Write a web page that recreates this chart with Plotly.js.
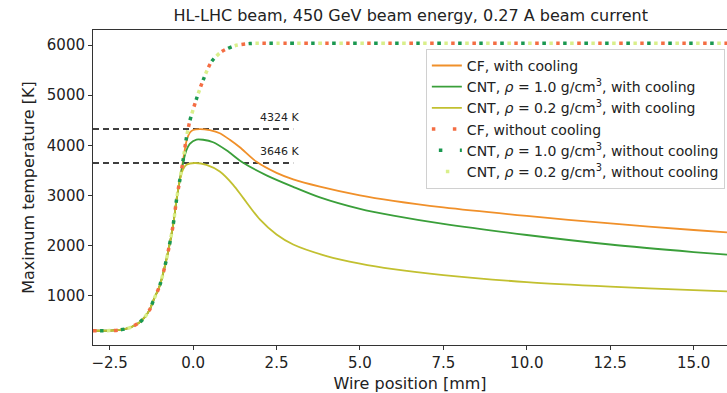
<!DOCTYPE html>
<html>
<head>
<meta charset="utf-8">
<script src="https://cdn.plot.ly/plotly-3.0.1.min.js"></script>
<style>html,body{margin:0;padding:0;background:#fff;}#chart{width:727px;height:393px;}</style>
</head>
<body>
<div id="chart"></div>
<script>
// ---- data ----
const xNoCooling = [-3, -2.5, -2.2, -2.0, -1.8, -1.6, -1.45, -1.3, -1.18, -1.0, -0.8, -0.6, -0.5, -0.4, -0.3, -0.2, -0.1, 0.1, 0.3, 0.55, 0.85, 1.25, 1.7, 2.5, 16];
const tNoCooling = [300, 302, 315, 340, 390, 470, 570, 720, 920, 1200, 1720, 2400, 2900, 3300, 3700, 4150, 4480, 4924, 5300, 5667, 5866, 5986, 6030, 6035, 6035];

const xCfCool = [-3, -2.5, -2.2, -2.0, -1.8, -1.6, -1.45, -1.3, -1.18, -1.0, -0.8, -0.6, -0.5, -0.4, -0.3, -0.2, -0.1, 0.0, 0.2, 0.5, 0.8, 1.1, 1.4, 1.9, 2.5, 3.0, 3.8, 5, 6, 7.5, 10, 12.5, 15, 16];
const tCfCool = [300, 302, 315, 340, 390, 470, 570, 720, 920, 1200, 1720, 2400, 2900, 3300, 3700, 4080, 4250, 4305, 4324, 4300, 4240, 4110, 3960, 3670, 3450, 3320, 3175, 3000, 2890, 2760, 2590, 2440, 2310, 2261];

const xCnt10Cool = [-3, -2.5, -2.2, -2.0, -1.8, -1.6, -1.45, -1.3, -1.18, -1.0, -0.8, -0.6, -0.5, -0.4, -0.3, -0.2, -0.1, 0.1, 0.3, 0.6, 1.0, 1.5, 2.2, 3.0, 3.8, 5, 6, 7.5, 10, 12.5, 15, 16];
const tCnt10Cool = [300, 302, 315, 340, 390, 470, 570, 720, 920, 1200, 1720, 2400, 2900, 3300, 3650, 3900, 4030, 4115, 4110, 4060, 3900, 3650, 3400, 3170, 2960, 2730, 2595, 2430, 2210, 2020, 1870, 1817];

const xCnt02Cool = [-3, -2.5, -2.2, -2.0, -1.8, -1.6, -1.45, -1.3, -1.18, -1.0, -0.8, -0.6, -0.5, -0.4, -0.3, -0.2, 0.05, 0.4, 0.8, 1.2, 1.5, 2.0, 2.5, 3.0, 4.0, 5.0, 6.0, 7.5, 10, 12.5, 15, 16];
const tCnt02Cool = [300, 302, 315, 340, 390, 470, 570, 720, 920, 1200, 1720, 2400, 2900, 3300, 3520, 3610, 3646, 3610, 3476, 3211, 2950, 2520, 2220, 2020, 1790, 1640, 1530, 1410, 1270, 1180, 1110, 1086];

const refX = [-3, 3];
const refLevels = [4324, 3646];

const xTicks = [-2.5, 0, 2.5, 5, 7.5, 10, 12.5, 15];
const yTicks = [1000, 2000, 3000, 4000, 5000, 6000];

const names = [
  'CF, with cooling',
  'CNT, <i>ρ</i> = 1.0 g/cm<sup>3</sup>, with cooling',
  'CNT, <i>ρ</i> = 0.2 g/cm<sup>3</sup>, with cooling',
  'CF, without cooling',
  'CNT, <i>ρ</i> = 1.0 g/cm<sup>3</sup>, without cooling',
  'CNT, <i>ρ</i> = 0.2 g/cm<sup>3</sup>, without cooling'
];

const FONT = 'DejaVu Sans, sans-serif';
const coolColors = ['#f0902a', '#3a9f3a', '#c2c030'];
const noCoolColors = ['#f46d43', '#1a9850', '#d9ef8b'];
const dotDashes = ['3.5px,17.5px', '0px,7px,3.5px,10.5px', '0px,14px,3.5px,3.5px'];

const traces = [];
refLevels.forEach(function (lv) {
  traces.push({x: refX, y: [lv, lv], mode: 'lines', showlegend: false, hoverinfo: 'skip',
    line: {color: '#000', width: 1.5, dash: '6px,4px'}});
});
const coolX = [xCfCool, xCnt10Cool, xCnt02Cool];
const coolT = [tCfCool, tCnt10Cool, tCnt02Cool];
for (let i = 0; i < 3; i++) {
  traces.push({x: coolX[i], y: coolT[i], mode: 'lines', name: names[i], legendgroup: 'c' + i,
    line: {color: coolColors[i], width: 1.8, shape: 'spline', smoothing: 0.8}});
}
for (let i = 0; i < 3; i++) {
  traces.push({x: xNoCooling, y: tNoCooling, mode: 'lines', name: names[3 + i], legendgroup: 'n' + i,
    line: {color: noCoolColors[i], width: 3.5, dash: dotDashes[i], shape: 'spline', smoothing: 0.8}});
}

const annotations = refLevels.map(function (lv) {
  return {x: 2.6, y: lv, xref: 'x', yref: 'y', text: lv + ' K', showarrow: false,
    xanchor: 'center', yanchor: 'bottom', yshift: 3, font: {family: FONT, size: 11, color: '#222'}};
});

const layout = {
  width: 727, height: 393,
  margin: {l: 93, r: 0, t: 30, b: 48},
  paper_bgcolor: '#fff', plot_bgcolor: '#fff',
  font: {family: FONT, color: '#222'},
  title: {text: 'HL-LHC beam, 450 GeV beam energy, 0.27 A beam current',
    font: {family: FONT, size: 16, color: '#222'}, x: 0.565, xanchor: 'center', y: 0.96, yanchor: 'middle'},
  xaxis: {range: [-3, 16], tickvals: xTicks, ticktext: xTicks.map(v => v.toFixed(1).replace('-', '−')),
    showgrid: false, zeroline: false, showline: true, linecolor: '#333', linewidth: 1, mirror: true,
    ticks: 'outside', ticklen: 4, tickcolor: '#333', tickfont: {family: FONT, size: 15, color: '#222'},
    title: {text: 'Wire position [mm]', font: {family: FONT, size: 16, color: '#222'}, standoff: 6}},
  yaxis: {range: [15, 6300], tickvals: yTicks, showgrid: false, zeroline: false, showline: true,
    linecolor: '#333', linewidth: 1, ticks: 'outside', ticklen: 4, tickcolor: '#333',
    tickfont: {family: FONT, size: 15, color: '#222'},
    title: {text: 'Maximum temperature [K]', font: {family: FONT, size: 16, color: '#222'}, standoff: 8}},
  legend: {x: 0.525, y: 0.94, xanchor: 'left', yanchor: 'top', bgcolor: 'rgba(255,255,255,0.85)',
    bordercolor: '#d0d0d0', borderwidth: 1, font: {family: FONT, size: 14, color: '#222'},
    itemwidth: 30, tracegroupgap: 5, traceorder: 'normal'},
  annotations: annotations,
  showlegend: true
};

Plotly.newPlot('chart', traces, layout, {displayModeBar: false, staticPlot: true});
</script>
</body>
</html>
